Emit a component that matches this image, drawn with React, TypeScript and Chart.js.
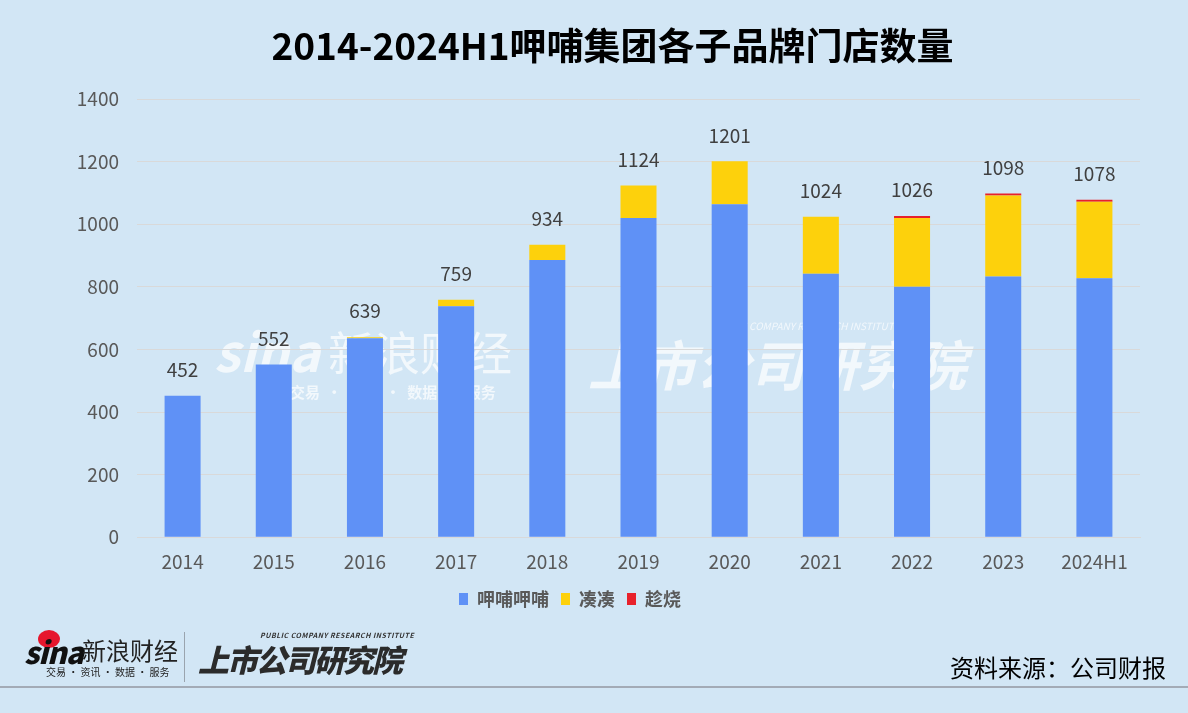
import React, { useEffect, useRef } from "react";
import { Chart, registerables } from "chart.js";

Chart.register(...registerables);

const categories = ["2014", "2015", "2016", "2017", "2018", "2019", "2020", "2021", "2022", "2023", "2024H1"];
const xiabuValues = [452, 552, 636, 738, 886, 1020, 1064, 842, 800, 833, 827];
const couValues = [0, 0, 3, 21, 48, 104, 137, 182, 220, 259, 245];
const chaoshaoValues = [0, 0, 0, 0, 0, 0, 0, 0, 6, 6, 6];
const seriesNames = ["呷哺呷哺", "凑凑", "趁烧"];
const yTicks = [0, 200, 400, 600, 800, 1000, 1200, 1400];

const BG = "rgb(210,230,245)";
const FONT = '"Noto Sans CJK SC", "Noto Sans", sans-serif';

const totalsPlugin = {
  id: "totals",
  afterDatasetsDraw(chart: any) {
    const ctx = chart.ctx;
    const meta0 = chart.getDatasetMeta(0);
    const y = chart.scales.y;
    ctx.save();
    ctx.font = `19px ${FONT}`;
    ctx.fillStyle = "#404040";
    ctx.textAlign = "center";
    ctx.textBaseline = "middle";
    categories.forEach((_, i) => {
      const total = xiabuValues[i] + couValues[i] + chaoshaoValues[i];
      const x = meta0.data[i].x;
      const top = y.getPixelForValue(total);
      ctx.fillText(String(total), x, top - 26);
    });
    ctx.restore();
  },
};

const watermarkPlugin = {
  id: "watermark",
  beforeDraw(chart: any) {
    const ctx = chart.ctx;
    ctx.save();
    ctx.fillStyle = "rgba(255,255,255,0.7)";
    ctx.textBaseline = "alphabetic";
    ctx.font = `italic bold 52px ${FONT}`;
    ctx.fillText("sina", 214, 372);
    ctx.font = `46px ${FONT}`;
    ctx.fillText("新浪财经", 328, 370);
    ctx.font = `bold 15px ${FONT}`;
    ctx.fillText("交易  ·  资讯  ·  数据  ·  服务", 290, 398);
    ctx.font = `italic bold 54px ${FONT}`;
    ctx.fillText("上市公司研究院", 588, 386);
    ctx.font = `italic 10px ${FONT}`;
    ctx.fillText("PUBLIC COMPANY RESEARCH INSTITUTE", 712, 330);
    ctx.restore();
  },
};

function BarChart() {
  const ref = useRef<HTMLCanvasElement | null>(null);
  useEffect(() => {
    if (!ref.current) return;
    const chart = new Chart(ref.current, {
      type: "bar",
      data: {
        labels: categories,
        datasets: [
          { label: seriesNames[0], data: xiabuValues, backgroundColor: "#5f91f6" },
          { label: seriesNames[1], data: couValues, backgroundColor: "#fdd10c" },
          { label: seriesNames[2], data: chaoshaoValues, backgroundColor: "#e8212b" },
        ],
      },
      options: {
        animation: false,
        responsive: false,
        maintainAspectRatio: false,
        layout: { padding: { top: 99, right: 48, left: 0, bottom: 95 } },
        datasets: { bar: { categoryPercentage: 1, barPercentage: 0.395 } },
        scales: {
          x: {
            stacked: true,
            grid: { display: false },
            border: { display: true, color: "#d9d9d9" },
            ticks: { color: "#595959", font: { family: FONT, size: 19 }, padding: 5 },
          },
          y: {
            stacked: true,
            min: 0,
            max: 1400,
            afterBuildTicks(axis: any) {
              axis.ticks = yTicks.map((v) => ({ value: v }));
            },
            afterFit(axis: any) {
              axis.width = 137;
            },
            grid: { color: "#d9d9d9", drawTicks: false },
            border: { display: false },
            ticks: {
              color: "#595959",
              font: { family: FONT, size: 19 },
              padding: 18,
              callback: (v: any) => String(v),
            },
          },
        },
        plugins: {
          legend: {
            position: "bottom",
            labels: {
              boxWidth: 9,
              boxHeight: 12,
              padding: 12,
              color: "#595959",
              font: { family: FONT, size: 18, weight: "bold" },
            },
          },
          tooltip: { enabled: false },
          title: { display: false },
        },
      },
      plugins: [totalsPlugin, watermarkPlugin],
    } as any);
    return () => chart.destroy();
  }, []);
  return <canvas ref={ref} width={1188} height={713} style={{ position: "absolute", left: 0, top: 0 }} />;
}

export default function App() {
  return (
    <div
      style={{
        position: "fixed",
        left: 0,
        top: 0,
        width: 1188,
        height: 713,
        background: BG,
        overflow: "hidden",
        fontFamily: FONT,
      }}
    >
      <BarChart />
      <div
        style={{
          position: "absolute",
          left: 0,
          width: 1225,
          top: 15,
          textAlign: "center",
          fontSize: 37,
          fontWeight: 700,
          color: "#000",
          lineHeight: "58px",
          whiteSpace: "nowrap",
        }}
      >
        2014-2024H1呷哺集团各子品牌门店数量
      </div>
      {/* footer: sina logo */}
      <div style={{ position: "absolute", left: 24, top: 628, width: 160, height: 52 }}>
        <div style={{ position: "absolute", left: 14, top: 2, width: 22, height: 18, borderRadius: "50%", background: "#e6162d" }} />
        <div
          style={{
            position: "absolute",
            left: 0,
            top: 6,
            fontSize: 30,
            fontWeight: 900,
            fontStyle: "italic",
            color: "#111",
            lineHeight: "34px",
            letterSpacing: -1,
            whiteSpace: "nowrap",
          }}
        >
          sina
        </div>
        <div
          style={{
            position: "absolute",
            left: 58,
            top: 6,
            fontSize: 24,
            color: "#222",
            lineHeight: "32px",
            whiteSpace: "nowrap",
          }}
        >
          新浪财经
        </div>
        <div
          style={{
            position: "absolute",
            left: 22,
            top: 38,
            fontSize: 10,
            color: "#222",
            lineHeight: "12px",
            whiteSpace: "pre",
          }}
        >
          {"交易 · 资讯 · 数据 · 服务"}
        </div>
      </div>
      <div style={{ position: "absolute", left: 184, top: 632, width: 1, height: 50, background: "#9aa4ae" }} />
      <div style={{ position: "absolute", left: 198, top: 628, width: 210, height: 56 }}>
        <div
          style={{
            position: "absolute",
            left: 62,
            top: 2,
            fontSize: 7,
            fontStyle: "italic",
            fontWeight: 700,
            color: "#333",
            whiteSpace: "nowrap",
            letterSpacing: 0.5,
          }}
        >
          PUBLIC COMPANY RESEARCH INSTITUTE
        </div>
        <div
          style={{
            position: "absolute",
            left: 0,
            top: 12,
            fontSize: 31,
            fontWeight: 900,
            fontStyle: "italic",
            color: "#2b2b2b",
            lineHeight: "38px",
            whiteSpace: "nowrap",
            letterSpacing: -2,
          }}
        >
          上市公司研究院
        </div>
      </div>
      <div
        style={{
          position: "absolute",
          right: 22,
          top: 649,
          fontSize: 24,
          color: "#000",
          lineHeight: "36px",
          whiteSpace: "nowrap",
        }}
      >
        资料来源：公司财报
      </div>
      <div style={{ position: "absolute", left: 0, top: 686, width: 1188, height: 2, background: "#a3abb6" }} />
    </div>
  );
}
